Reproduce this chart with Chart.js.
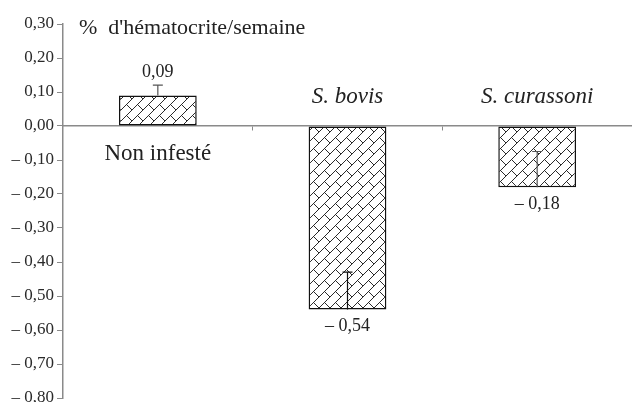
<!DOCTYPE html>
<html>
<head>
<meta charset="utf-8">
<script src="https://cdn.jsdelivr.net/npm/chart.js@4.4.1/dist/chart.umd.min.js"></script>
<style>
  html, body { margin: 0; padding: 0; background: #fff; }
  #wrap { width: 632px; height: 402px; }
</style>
</head>
<body>
<div id="wrap"><canvas id="chart" width="632" height="402"></canvas></div>
<script>
// data
var categories = ['Non infesté', 'S. bovis', 'S. curassoni'];
var italicCats = [false, true, true];
var values = [0.09, -0.54, -0.18];
var errorEnds = [0.12, -0.43, -0.075];
var valueLabels = ['0,09', '– 0,54', '– 0,18'];
var yTitle = "%  d'hématocrite/semaine";
var yMin = -0.8, yMax = 0.3, yStep = 0.1;

var SERIF = "'Liberation Serif', 'DejaVu Serif', serif";
var AXIS = '#8a8a8a';

var canvas = document.getElementById('chart');
var ctx = canvas.getContext('2d');

// diagonal brick hatch like the printed fill
function makeHatch() {
    var s = 11;
    var tile = document.createElement('canvas');
    tile.width = s;
    tile.height = s;
    var g = tile.getContext('2d');
    g.fillStyle = '#fff';
    g.fillRect(0, 0, s, s);
    g.strokeStyle = '#2a2a2a';
    g.lineWidth = 1;
    g.beginPath();
    g.moveTo(-1, s + 1);
    g.lineTo(s + 1, -1);
    g.moveTo(s / 2, s / 2);
    g.lineTo(s + 1, s + 1);
    g.stroke();
    return ctx.createPattern(tile, 'repeat');
}

function fmt(v) {
    if (Math.abs(v) < 1e-9) return '0,00';
    var t = Math.abs(v).toFixed(2).replace('.', ',');
    return v < 0 ? '– ' + t : t;
}

var annotations = {
    id: 'annotations',
    afterDatasetsDraw: function(chart) {
        var c = chart.ctx;
        var ys = chart.scales.y;
        var area = chart.chartArea;
        var meta = chart.getDatasetMeta(0);
        var zero = ys.getPixelForValue(0);
        c.save();

        // error bars (one-sided, toward zero)
        meta.data.forEach(function(bar, i) {
            var y0 = ys.getPixelForValue(values[i]);
            var y1 = ys.getPixelForValue(errorEnds[i]);
            c.strokeStyle = i === 1 ? '#111' : '#555';
            c.lineWidth = 1.2;
            c.beginPath();
            c.moveTo(bar.x, y0);
            c.lineTo(bar.x, y1);
            c.moveTo(bar.x - 5, y1);
            c.lineTo(bar.x + 5, y1);
            c.stroke();
        });

        // value labels
        c.fillStyle = '#222';
        c.font = '18px ' + SERIF;
        c.textAlign = 'center';
        c.textBaseline = 'middle';
        meta.data.forEach(function(bar, i) {
            if (values[i] >= 0) {
                c.fillText(valueLabels[i], bar.x, ys.getPixelForValue(errorEnds[i]) - 13);
            } else {
                c.fillText(valueLabels[i], bar.x, ys.getPixelForValue(values[i]) + 17);
            }
        });

        // category names, on the side of the zero line away from the bar
        meta.data.forEach(function(bar, i) {
            c.font = (italicCats[i] ? 'italic ' : '') + '23px ' + SERIF;
            var y = values[i] >= 0 ? zero + 28 : zero - 29;
            c.fillText(categories[i], bar.x, y);
        });

        // axis title
        c.font = '22px ' + SERIF;
        c.textAlign = 'left';
        c.fillText(yTitle, area.left + 16, area.top + 4);
        c.restore();
    }
};

function draw() {
    new Chart(ctx, {
        type: 'bar',
        data: {
            labels: categories,
            datasets: [{
                data: values,
                backgroundColor: makeHatch(),
                borderColor: '#111',
                borderWidth: 1.5,
                borderSkipped: false,
                categoryPercentage: 1,
                barPercentage: 0.41
            }]
        },
        options: {
            responsive: false,
            animation: false,
            layout: { padding: { top: 24, bottom: 4, left: 0, right: 0 } },
            plugins: {
                legend: { display: false },
                tooltip: { enabled: false }
            },
            scales: {
                x: {
                    position: { y: 0 },
                    offset: true,
                    grid: {
                        offset: true,
                        drawOnChartArea: false,
                        tickLength: 4,
                        color: function(context) {
                            return context.index >= 1 ? AXIS : 'rgba(0,0,0,0)';
                        }
                    },
                    border: { color: AXIS, width: 1.5 },
                    ticks: { display: false },
                    afterFit: function(scale) { scale.height = 0; }
                },
                y: {
                    min: yMin,
                    max: yMax,
                    ticks: {
                        stepSize: yStep,
                        padding: 3,
                        color: '#2a2a2a',
                        font: { family: SERIF, size: 17 },
                        callback: function(v) { return fmt(v); }
                    },
                    grid: {
                        drawOnChartArea: false,
                        tickLength: 6,
                        color: AXIS
                    },
                    border: { color: AXIS, width: 1.5 },
                    afterFit: function(scale) {
                        scale.width = 63;
                        scale.paddingTop = 0;
                        scale.paddingBottom = 0;
                    }
                }
            }
        },
        plugins: [annotations]
    });
}

if (document.fonts && document.fonts.load) {
    Promise.all([
        document.fonts.load("16px 'Liberation Serif'"),
        document.fonts.load("italic 21px 'Liberation Serif'")
    ]).then(draw, draw);
} else {
    draw();
}
</script>
</body>
</html>
